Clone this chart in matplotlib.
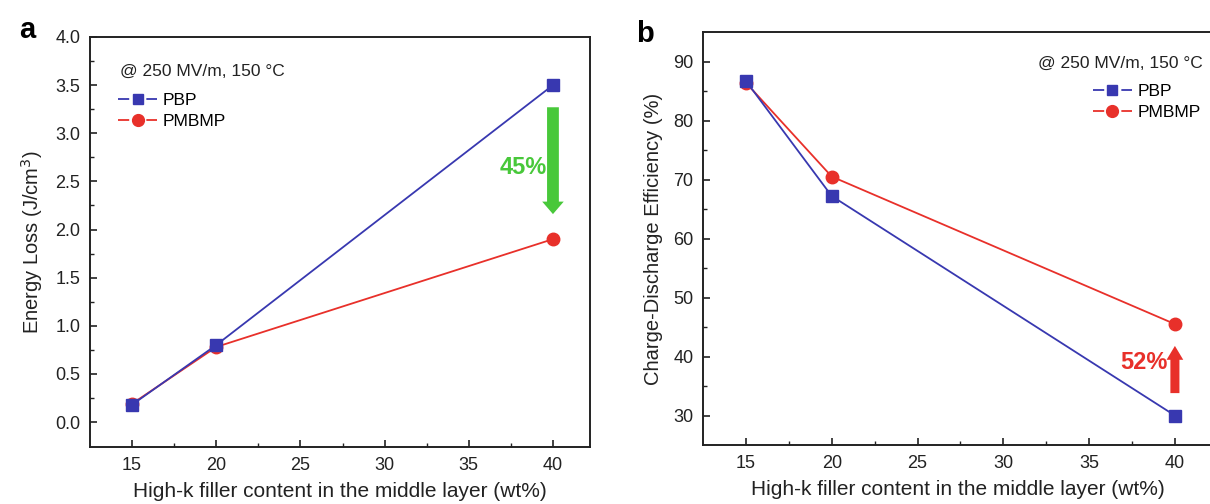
import numpy as np
import matplotlib
matplotlib.use('Agg')
import matplotlib.pyplot as plt
from matplotlib.lines import Line2D

plt.rcParams['font.family'] = ['Liberation Sans', 'DejaVu Sans']

# data
filler = [15, 20, 40]
loss_pbp = [0.18, 0.80, 3.50]
loss_pmbmp = [0.19, 0.78, 1.90]
eff_pbp = [86.7, 67.2, 30.0]
eff_pmbmp = [86.4, 70.5, 45.5]

x_ticks = [15, 20, 25, 30, 35, 40]
xlabel = 'High-k filler content in the middle layer (wt%)'
condition = '@ 250 MV/m, 150 °C'

BLUE = '#3838b0'
RED = '#e8302a'
GREEN = '#48c83a'
TEXT = '#222222'


def style_axes(ax):
    for s in ax.spines.values():
        s.set_linewidth(1.4)
        s.set_color('#222222')
    ax.tick_params(direction='in', which='both', top=False, right=False,
                   labelsize=13, colors='#222222', pad=7)
    ax.tick_params(which='major', length=5, width=1.2)
    ax.tick_params(which='minor', length=3, width=1.0)
    ax.set_xticks(x_ticks)
    ax.set_xticks([17.5, 22.5, 27.5, 32.5, 37.5], minor=True)
    ax.set_xlim(12.5, 42.2)
    ax.set_xlabel(xlabel, fontsize=15, color=TEXT, labelpad=6)


def origin_legend(ax, anchor):
    # Origin-style handles: line broken around the marker
    handles = []
    for color, marker, ms in [(BLUE, 's', 7), (RED, 'o', 8.5)]:
        seg = Line2D([], [], color=color, lw=1.3, ls=(0, (6.2, 9.5)))
        mk = Line2D([], [], color=color, ls='none', marker=marker, ms=ms)
        handles.append((seg, mk))
    ax.legend(handles, ['PBP', 'PMBMP'], loc='center left', bbox_to_anchor=anchor,
              frameon=False, fontsize=12.5, handlelength=2.25, handletextpad=0.3,
              labelspacing=0.32, borderpad=0, borderaxespad=0)


fig = plt.figure(figsize=(12.1, 5.04), dpi=100)

# panel a
ax1 = fig.add_axes([0.0744, 0.113, 0.4132, 0.8136])
ax1.plot(filler, loss_pbp, color=BLUE, lw=1.3, marker='s', ms=8, zorder=3)
ax1.plot(filler, loss_pmbmp, color=RED, lw=1.3, marker='o', ms=9, zorder=2)
style_axes(ax1)
ax1.set_ylim(-0.26, 4.0)
ax1.set_yticks(np.arange(0, 4.01, 0.5))
ax1.set_yticks(np.arange(0.25, 4.0, 0.5), minor=True)
ax1.yaxis.set_major_formatter(matplotlib.ticker.FormatStrFormatter('%.1f'))
ax1.set_ylabel('Energy Loss (J/cm$^3$)', fontsize=14.5, color=TEXT, labelpad=7)
ax1.text(0.06, 0.915, condition, transform=ax1.transAxes, fontsize=12.5, color=TEXT, va='center')
origin_legend(ax1, (0.056, 0.82))
ax1.annotate('', xy=(40, 2.16), xytext=(40, 3.27),
             arrowprops=dict(facecolor=GREEN, edgecolor='none', width=8.5, headwidth=15.5, headlength=9))
ax1.text(39.65, 2.64, '45%', color=GREEN, fontsize=17, fontweight='bold', ha='right', va='center')
fig.text(0.016, 0.925, 'a', fontsize=21, fontweight='bold')

# panel b
ax2 = fig.add_axes([0.581, 0.117, 0.4212, 0.8195])
ax2.plot(filler, eff_pbp, color=BLUE, lw=1.3, marker='s', ms=8, zorder=3)
ax2.plot(filler, eff_pmbmp, color=RED, lw=1.3, marker='o', ms=9, zorder=2)
style_axes(ax2)
ax2.set_ylim(25, 95)
ax2.set_yticks(np.arange(30, 91, 10))
ax2.set_yticks(np.arange(35, 95, 10), minor=True)
ax2.set_ylabel('Charge-Discharge Efficiency (%)', fontsize=14.5, color=TEXT, labelpad=7)
ax2.text(0.657, 0.925, condition, transform=ax2.transAxes, fontsize=12.5, color=TEXT, va='center')
origin_legend(ax2, (0.765, 0.83))
ax2.annotate('', xy=(40, 41.8), xytext=(40, 33.8),
             arrowprops=dict(facecolor=RED, edgecolor='none', width=6.5, headwidth=12, headlength=10))
ax2.text(39.55, 39.0, '52%', color=RED, fontsize=17, fontweight='bold', ha='right', va='center')
fig.text(0.526, 0.917, 'b', fontsize=21, fontweight='bold')

fig.savefig('out.png', dpi=100)
